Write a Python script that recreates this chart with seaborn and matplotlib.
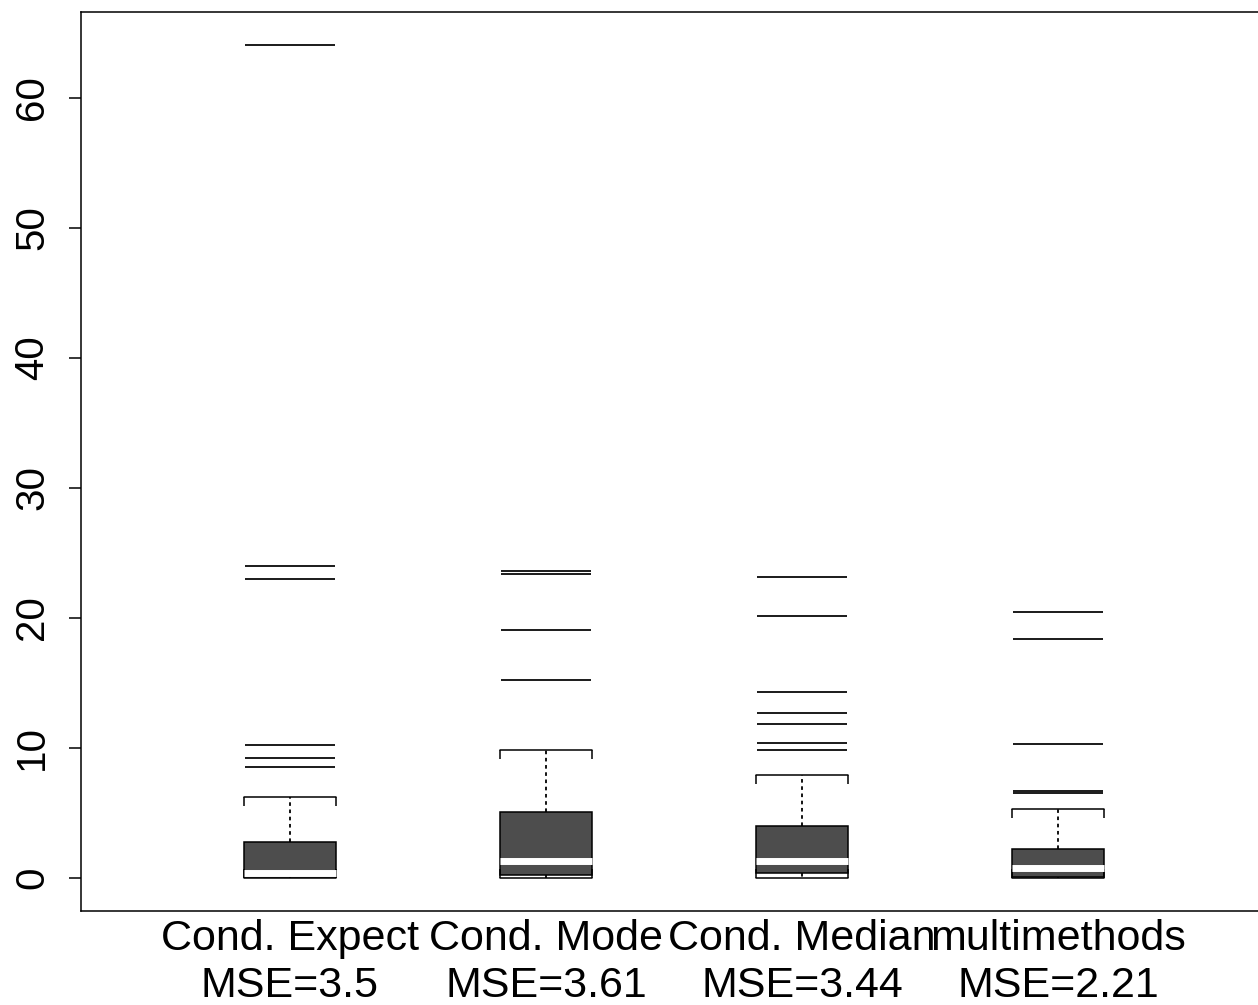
import numpy as np
import pandas as pd
import matplotlib
matplotlib.use("Agg")
import matplotlib.pyplot as plt
import seaborn as sns

# Values
methods = ["Cond. Expect", "Cond. Mode", "Cond. Median", "multimethods"]
mse = ["3.5", "3.61", "3.44", "2.21"]
q1 = [0.05, 0.20, 0.36, 0.10]
medians = [0.42, 1.30, 1.33, 0.74]
q3 = [2.79, 5.10, 4.00, 2.20]
whisk_lo = [0.0, 0.0, 0.0, 0.0]
whisk_hi = [6.25, 9.85, 7.92, 5.30]
outliers = [
    [8.56, 9.23, 10.23, 23.02, 24.02, 64.08],
    [15.2, 19.1, 23.38, 23.64],
    [9.85, 10.36, 11.85, 12.67, 14.33, 20.15, 23.15],
    [6.50, 6.72, 10.3, 18.38, 20.46],
]

# Build samples whose box statistics reproduce the values above
rows = []
for i, m in enumerate(methods):
    vals = [whisk_lo[i]] + [q1[i]] * 20 + [medians[i]] * 20 + [q3[i]] * 20 + [whisk_hi[i]] + outliers[i]
    rows += [(m, v) for v in vals]
df = pd.DataFrame(rows, columns=["method", "value"])

sns.set_theme(style="ticks")
plt.rcParams["font.family"] = ["Liberation Sans", "DejaVu Sans"]

fig = plt.figure(figsize=(12.58, 10.05), dpi=100)
ax = fig.add_axes([81 / 1258, 94 / 1005, 1 - 81 / 1258, 899 / 1005])

box_w = 0.356
sns.boxplot(
    data=df, x="method", y="value", order=methods, ax=ax,
    color="#4d4d4d", linecolor="black", linewidth=1.1, width=box_w,
    saturation=1, fliersize=65,
    flierprops={"marker": "_", "markersize": 65, "markeredgewidth": 1.4,
                "markeredgecolor": "#1a1a1a"},
    medianprops={"color": "white", "linewidth": 5},
    whiskerprops={"linestyle": (0, (2.0, 2.0)), "linewidth": 1.3},
    capprops={"linewidth": 1.1},
)

# caps span the full box width with small end ticks, as in the original
for line in ax.lines:
    x, y = line.get_data()
    x = np.asarray(x, dtype=float)
    y = np.asarray(y, dtype=float)
    if len(x) == 2 and y[0] == y[1] and line.get_linestyle() == "-" \
            and matplotlib.colors.to_hex(line.get_color()) == "#000000":
        c = x.mean()
        line.set_xdata([c - box_w / 2, c + box_w / 2])
        idx = int(round(c))
        if y[0] >= whisk_hi[idx] - 1e-9:
            line.set_marker(3)
        else:
            line.set_marker(2)
        line.set_markersize(6.5)
        line.set_markeredgewidth(1.1)
        line.set_markeredgecolor("black")

ax.set_xlim(-0.816, 3.781)
ax.set_ylim(-2.54, 66.6)
ax.set_xlabel("")
ax.set_ylabel("")

ax.set_xticks(range(len(methods)))
ax.set_xticklabels([f"{m}\nMSE={s}" for m, s in zip(methods, mse)],
                   fontsize=31, linespacing=1.22)
ax.tick_params(axis="x", length=0, pad=6, colors="black")

ax.set_yticks([0, 10, 20, 30, 40, 50, 60])
ax.tick_params(axis="y", length=8.6, width=1.1, pad=13, labelsize=29,
               labelrotation=90, colors="black")
for lab in ax.get_yticklabels():
    lab.set_va("center")

for side in ["left", "top", "bottom"]:
    ax.spines[side].set_color("black")
    ax.spines[side].set_linewidth(1.1)
ax.spines["right"].set_visible(False)

fig.savefig("out.png", dpi=100)
